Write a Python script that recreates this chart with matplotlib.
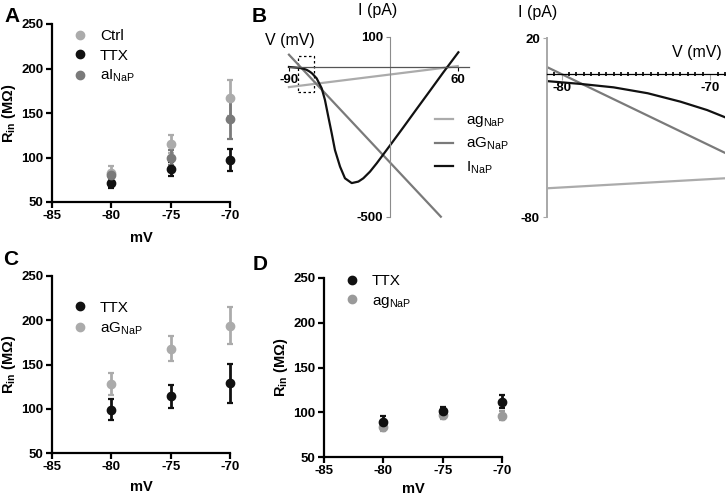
import matplotlib
matplotlib.use("Agg")
import matplotlib.pyplot as plt
from matplotlib.patches import Rectangle
from matplotlib.lines import Line2D
from matplotlib.ticker import MultipleLocator

plt.rcParams["font.family"] = ["Liberation Sans", "DejaVu Sans"]
plt.rcParams["mathtext.fontset"] = "custom"
plt.rcParams["mathtext.rm"] = "Liberation Sans"
plt.rcParams["mathtext.bf"] = "Liberation Sans:bold"
plt.rcParams["mathtext.it"] = "Liberation Sans:italic"
plt.rcParams["axes.unicode_minus"] = False

# -----------------------
# Data
# -----------------------
mv = [-80, -75, -70]

# panel A
ctrl_a = [83, 115, 167]
ctrl_a_err = [8, 10, 20]
ttx_a = [71, 87, 97]
ttx_a_err = [5, 8, 12]
ainap_a = [80, 100, 143]
ainap_a_err = [5, 8, 22]

# panel C
ttx_c = [99, 114, 129]
ttx_c_err = [12, 13, 22]
aG_c = [128, 168, 194]
aG_c_err = [12, 14, 21]

# panel D
ttx_d = [89, 101, 112]
ttx_d_err = [7, 5, 7]
ag_d = [84, 97, 96]
ag_d_err = [5, 4, 5]

# panel B (I-V curves)
ag_v = [-90, 60]
ag_i = [-68, 2]
aG_v = [-90, 45]
aG_i = [40, -500]
inap_v = [-90, -81, -78.7, -76.5, -74.2, -72, -70.2, -69, -65.4, -60.9,
          -58, -55, -52, -49.1, -44.6, -40.2, -34.2, -28.3, -23.9, -18,
          -12, 1.3, 11.7, 23.5, 35.4, 47.2, 60.6]
inap_i = [-1, -3.9, -5.5, -7.4, -10.7, -15.4, -20.1, -24.1, -38.8, -72,
          -111, -167, -222, -278, -333, -372, -388, -383, -372, -350,
          -322, -255, -202, -141, -80, -19, 48]

zoom_v = [-81, -69]
zoom_i = [-80, 20]
box_v = [-82, -68]
box_i = [-85, 35]

LIGHT = "#ababab"
MID = "#7a7a7a"
DARK = "#111111"
TICK_FS = 9.5

fig = plt.figure(figsize=(7.26, 4.96), dpi=100)


def px_axes(x0, y0, x1, y1):
    return fig.add_axes([x0 / 726, (496 - y1) / 496, (x1 - x0) / 726, (y1 - y0) / 496])


def rin_axes(ax, xlab_y):
    ax.set_xlim(-85, -70)
    ax.set_ylim(50, 250)
    ax.set_xticks([-85, -80, -75, -70])
    ax.set_yticks([50, 100, 150, 200, 250])
    for s in ["top", "right"]:
        ax.spines[s].set_visible(False)
    for s in ["left", "bottom"]:
        ax.spines[s].set_linewidth(1.6)
    ax.tick_params(width=1.6, length=4, labelsize=TICK_FS, pad=2)
    for lab in ax.get_xticklabels() + ax.get_yticklabels():
        lab.set_fontweight("bold")
    ax.set_xlabel("mV", fontsize=10.5, fontweight="bold")
    ax.set_ylabel(r"$\mathbf{R_{in}}$ $\mathbf{(M\Omega)}$", fontsize=10.5)
    ax.xaxis.set_label_coords(0.5, xlab_y)
    ax.yaxis.set_label_coords(-0.19, 0.5)


def points(ax, y, err, color):
    ax.errorbar(mv, y, yerr=err, fmt="o", color=color, ms=6, elinewidth=2,
                capsize=2.5, capthick=1.6, clip_on=False)


def rin_legend(ax, x, y, colors, labels):
    handles = [Line2D([], [], marker="o", ls="none", color=c, ms=6) for c in colors]
    ax.legend(handles, labels, loc="upper left", bbox_to_anchor=(x, y), frameon=False,
              fontsize=11, handlelength=1.0, handletextpad=0.8,
              labelspacing=0.35, borderpad=0, borderaxespad=0)


# -----------------------
# Panel A
# -----------------------
ax_a = px_axes(52, 24, 230, 202)
points(ax_a, ctrl_a, ctrl_a_err, LIGHT)
points(ax_a, ttx_a, ttx_a_err, DARK)
points(ax_a, ainap_a, ainap_a_err, MID)
rin_axes(ax_a, -0.165)
rin_legend(ax_a, 0.115, 0.97, [LIGHT, DARK, MID], ["Ctrl", "TTX", r"aI$_\mathrm{NaP}$"])

# -----------------------
# Panel C
# -----------------------
ax_c = px_axes(52, 276, 230, 453)
points(ax_c, ttx_c, ttx_c_err, DARK)
points(ax_c, aG_c, aG_c_err, LIGHT)
rin_axes(ax_c, -0.15)
rin_legend(ax_c, 0.115, 0.86, [DARK, LIGHT], ["TTX", r"aG$_\mathrm{NaP}$"])

# -----------------------
# Panel D
# -----------------------
ax_d = px_axes(324, 278, 502, 457)
points(ax_d, ag_d, ag_d_err, "#9a9a9a")
points(ax_d, ttx_d, ttx_d_err, DARK)
rin_axes(ax_d, -0.14)
rin_legend(ax_d, 0.115, 1.02, [DARK, "#9a9a9a"], ["TTX", r"ag$_\mathrm{NaP}$"])

# -----------------------
# Panel B left: full I-V
# -----------------------
ax_b = px_axes(280, 30, 470, 225)
ax_b.set_xlim(-97.96, 70.93)
ax_b.set_ylim(-527.7, 122.3)
ax_b.plot(ag_v, ag_i, color=LIGHT, lw=1.6, label=r"ag$_\mathrm{NaP}$")
ax_b.plot(aG_v, aG_i, color=MID, lw=1.6, label=r"aG$_\mathrm{NaP}$")
ax_b.plot(inap_v, inap_i, color=DARK, lw=1.6, label=r"I$_\mathrm{NaP}$")
ax_b.add_patch(Rectangle((box_v[0], box_i[0]), box_v[1] - box_v[0], box_i[1] - box_i[0],
                         fill=False, ls=(0, (2, 2)), lw=0.9, color="black"))
for s in ["top", "right"]:
    ax_b.spines[s].set_visible(False)
ax_b.spines["left"].set_position(("data", 0))
ax_b.spines["left"].set_bounds(-500, 100)
ax_b.spines["left"].set_color("#8c8c8c")
ax_b.spines["bottom"].set_position(("data", 0))
ax_b.spines["bottom"].set_bounds(-90, 70)
ax_b.spines["bottom"].set_color("#555555")
ax_b.spines["bottom"].set_linewidth(0.9)
ax_b.set_xticks([-90, 60])
ax_b.set_yticks([-500, 100])
ax_b.tick_params(length=3, width=0.8, labelsize=TICK_FS, colors="black", pad=2)
ax_b.tick_params(axis="y", color="#8c8c8c")
for lab in ax_b.get_xticklabels() + ax_b.get_yticklabels():
    lab.set_fontweight("bold")
ax_b.legend(loc="upper left", bbox_to_anchor=(435 / 726, 1 - 113 / 496),
            bbox_transform=fig.transFigure, frameon=False, fontsize=11,
            handlelength=1.2, handletextpad=0.8, labelspacing=0.45,
            borderpad=0, borderaxespad=0)
fig.text(378 / 726, 1 - 11 / 496, "I (pA)", fontsize=11.5, ha="center", va="center")
fig.text(290 / 726, 1 - 40 / 496, "V (mV)", fontsize=11.5, ha="center", va="center")

# -----------------------
# Panel B right: zoom
# -----------------------
ax_z = px_axes(546.7, 38.3, 725, 217.3)
ax_z.set_xlim(*zoom_v)
ax_z.set_ylim(*zoom_i)
ax_z.plot(ag_v, ag_i, color=LIGHT, lw=1.6)
ax_z.plot(aG_v, aG_i, color=MID, lw=1.6)
ax_z.plot(inap_v, inap_i, color=DARK, lw=1.6)
for s in ["top", "right"]:
    ax_z.spines[s].set_visible(False)
ax_z.spines["left"].set_color("#a8a8a8")
ax_z.spines["left"].set_linewidth(1.4)
ax_z.spines["bottom"].set_position(("data", 0))
ax_z.spines["bottom"].set_linewidth(0.9)
ax_z.set_xticks([-80, -70])
ax_z.set_yticks([-80, 20])
ax_z.xaxis.set_minor_locator(MultipleLocator(0.5))
ax_z.tick_params(axis="x", which="minor", direction="inout", length=3, width=1.2)
ax_z.tick_params(axis="x", which="major", length=4, width=0.8, color="#a8a8a8",
                 labelsize=TICK_FS, pad=2)
ax_z.tick_params(axis="y", length=3, width=0.8, color="#a8a8a8", labelsize=TICK_FS, pad=2)
for lab in ax_z.get_xticklabels() + ax_z.get_yticklabels():
    lab.set_fontweight("bold")
fig.text(538 / 726, 1 - 13 / 496, "I (pA)", fontsize=11.5, ha="center", va="center")
fig.text(697 / 726, 1 - 53 / 496, "V (mV)", fontsize=11.5, ha="center", va="center")

# -----------------------
# Panel letters
# -----------------------
for x, y, t in [(4, 7, "A"), (252, 7, "B"), (3, 250, "C"), (253, 255, "D")]:
    fig.text(x / 726, 1 - y / 496, t, fontsize=15, fontweight="bold", ha="left", va="top")

fig.savefig("out.png", dpi=100)
